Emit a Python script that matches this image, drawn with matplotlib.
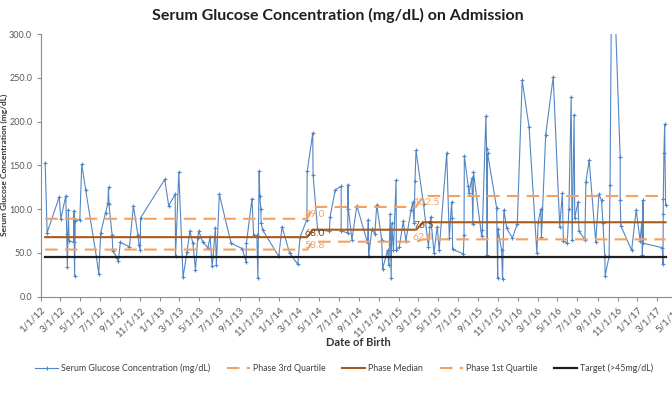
import matplotlib
matplotlib.use('Agg')
import matplotlib.pyplot as plt
import matplotlib.dates as mdates
from matplotlib.lines import Line2D
import numpy as np
import pandas as pd

# ---------------- data ----------------
# date of birth, expressed as days after 1 Jan 2012
days_since_2012 = [
    14, 20, 57, 62, 77, 80, 82, 85, 87, 102, 102, 104, 106, 120, 126, 138, 171, 178, 184, 199,
    206, 208, 209, 219, 221, 235, 238, 244, 272, 284, 298, 301, 305, 306,
    380, 392, 412, 413, 423, 436, 448, 457, 466, 474, 481, 484, 496, 512, 519, 525, 528, 535, 538, 547,
    583, 617, 629, 630, 647, 652, 662, 665, 669, 671, 674, 675, 680, 729, 739, 762,
    787, 794, 815, 816, 833, 834, 848, 884, 886, 902, 920, 920, 940, 941, 942, 953, 968, 1001, 1003, 1004,
    1014, 1023, 1029, 1044, 1047, 1062, 1066, 1070, 1073, 1075, 1080, 1088, 1089, 1098, 1110, 1118, 1134, 1139,
    1143, 1146, 1149, 1172, 1187, 1194, 1204, 1214, 1220, 1243, 1251, 1258, 1260, 1261, 1294, 1296, 1297, 1309,
    1311, 1320, 1323, 1325, 1350, 1352, 1363, 1365, 1367, 1368, 1396, 1399, 1400, 1411, 1414, 1418, 1427, 1444,
    1459, 1474, 1495, 1519,
    1523, 1531, 1533, 1546, 1569, 1589, 1597, 1600, 1612, 1617, 1624, 1627, 1633, 1635, 1645, 1648, 1666, 1669,
    1679, 1699, 1709, 1717, 1721, 1727, 1728, 1740, 1743, 1749, 1774, 1774, 1776, 1809, 1823, 1835, 1840, 1842,
    1844, 1845, 1903, 1905, 1906, 1906, 1908, 1910, 1913,
]
glucose = [
    153, 73, 114, 89, 115, 72, 34, 99, 64, 62, 98, 24, 87, 88, 151, 122, 45, 26, 73, 96,
    107, 125, 106, 70, 52, 44, 41, 62, 57, 104, 70, 59, 53, 90,
    134, 104, 117, 46, 142, 22, 51, 75, 61, 31, 67, 75, 63, 56, 68, 35, 46, 79, 36, 117,
    61, 55, 40, 61, 112, 70, 70, 21, 143, 115, 100, 84, 76, 46, 80, 50,
    37, 68, 88, 143, 187, 139, 76, 75, 91, 122, 126, 75, 73, 128, 100, 65, 104, 61, 88, 46,
    77, 72, 105, 65, 32, 53, 36, 94, 21, 84, 53, 133, 53, 57, 86, 64, 99, 108,
    84, 132, 167, 106, 57, 91, 50, 80, 53, 164, 67, 108, 90, 54, 49, 70, 161, 126,
    118, 135, 83, 142, 69, 76, 206, 169, 48, 164, 101, 21, 77, 53, 20, 99, 78, 67,
    83, 247, 194, 50,
    85, 100, 68, 185, 251, 80, 118, 64, 61, 100, 228, 65, 208, 90, 108, 75, 65, 131,
    156, 63, 117, 110, 84, 46, 24, 46, 128, 430, 159, 110, 81, 53, 99, 64, 85, 48,
    110, 61, 56, 37, 95, 112, 164, 197, 105,
]
phase_start_days = [0, 833, 1172]
phase_q3 = [89.0, 102.5, 115.0]
phase_median = [68.0, 76.5, 85.0]
phase_q1 = [53.8, 62.8, 65.5]
target_value = 45.0
labelled_phases = [0, 1]

title = "Serum Glucose Concentration (mg/dL) on Admission"
y_title = "Serum Glucose Concentration (mg/dL)"
x_title = "Date of Birth"
legend_labels = ["Serum Glucose Concentration (mg/dL)", "Phase 3rd Quartile",
                 "Phase Median", "Phase 1st Quartile", "Target (>45mg/dL)"]

# ---------------- derived series ----------------
dates = pd.Timestamp('2012-01-01') + pd.to_timedelta(days_since_2012, unit='D')
dsd = np.array(days_since_2012)
phase_idx = np.searchsorted(phase_start_days, dsd, side='right') - 1
q3 = np.array(phase_q3)[phase_idx]
med = np.array(phase_median)[phase_idx]
q1 = np.array(phase_q1)[phase_idx]
tgt = np.full(len(dsd), target_value)

# ---------------- figure ----------------
FONT = ['Lato', 'DejaVu Sans']
plt.rcParams['font.family'] = FONT
W, H = 672, 393
fig = plt.figure(figsize=(W / 100, H / 100), dpi=100)
x0, x1 = 40.6, 676.7
y_top, y_bot = 34.0, 296.7
ax = fig.add_axes([x0 / W, 1 - y_bot / H, (x1 - x0) / W, (y_bot - y_top) / H])

c_blue = '#5486C4'
c_orange = '#F7A160'
c_brown = '#A85A1C'
c_black = '#1E1E1E'

ax.plot(dates, glucose, color=c_blue, lw=0.8, marker='+', ms=3, mew=0.8, zorder=2)
ax.plot(dates, q3, color=c_orange, lw=1.5, dashes=(6, 3.5), zorder=3)
ax.plot(dates, med, color=c_brown, lw=1.5, zorder=3)
ax.plot(dates, q1, color=c_orange, lw=1.5, dashes=(6, 3.5), zorder=3)
ax.plot(dates, tgt, color=c_black, lw=1.6, zorder=3)

# phase data labels at last point of each labelled phase
for p in labelled_phases:
    last = np.where(phase_idx == p)[0][-1]
    for val, col in ((phase_q3[p], c_orange), (phase_median[p], '#7A4515'), (phase_q1[p], c_orange)):
        ax.annotate(f"{val:.1f}", xy=(dates[last], val), xytext=(-3, 4),
                    textcoords='offset pixels', ha='left', va='center',
                    fontsize=7.5, color=col, zorder=4)

ax.set_ylim(0, 300)
ax.set_yticks(np.arange(0, 301, 50))
ax.yaxis.set_major_formatter(matplotlib.ticker.FuncFormatter(lambda v, _: f"{v:.1f}"))
ax.set_xlim(pd.Timestamp('2012-01-01'), pd.Timestamp('2017-05-01'))
ax.xaxis.set_major_locator(mdates.MonthLocator(bymonth=[1, 3, 5, 7, 9, 11]))
ax.xaxis.set_major_formatter(matplotlib.ticker.FuncFormatter(
    lambda v, _: (lambda d: f"{d.month}/{d.day}/{d.strftime('%y')}")(mdates.num2date(v))))

for s in ('top', 'right'):
    ax.spines[s].set_visible(False)
for s in ('left', 'bottom'):
    ax.spines[s].set_color('#8C8C8C')
    ax.spines[s].set_linewidth(0.8)
ax.tick_params(axis='both', direction='out', length=3, width=0.8, color='#8C8C8C',
               labelsize=7, labelcolor='#595959')
ax.tick_params(axis='y', pad=3, labelsize=6.5)
plt.setp(ax.get_xticklabels(), rotation=45, ha='right', rotation_mode='anchor')

fig.text(0.503, 1 - 15 / H, title, ha='center', va='center', fontsize=11.5, fontweight='bold', color='#1F1F1F')
fig.text(4.5 / W, 1 - ((y_top + y_bot) / 2) / H, y_title, rotation=90, ha='center', va='center',
         fontsize=6.0, fontweight='bold', color='#333333')
fig.text(358.6 / W, 1 - 342 / H, x_title, ha='center', va='center', fontsize=8,
         fontweight='bold', color='#333333')

handles = [
    Line2D([], [], color=c_blue, lw=0.8, marker='+', ms=3, mew=0.8),
    Line2D([], [], color=c_orange, lw=1.5, dashes=(6, 3.5)),
    Line2D([], [], color=c_brown, lw=1.5),
    Line2D([], [], color=c_orange, lw=1.5, dashes=(6, 3.5)),
    Line2D([], [], color=c_black, lw=1.6),
]
leg = fig.legend(handles, legend_labels, loc='center', bbox_to_anchor=(344 / W, 1 - 368 / H),
                 ncol=5, frameon=False, fontsize=6.4, handlelength=2.6, handletextpad=0.3,
                 columnspacing=1.9)
for t in leg.get_texts():
    t.set_color('#404040')

fig.savefig('out.png', dpi=100)
